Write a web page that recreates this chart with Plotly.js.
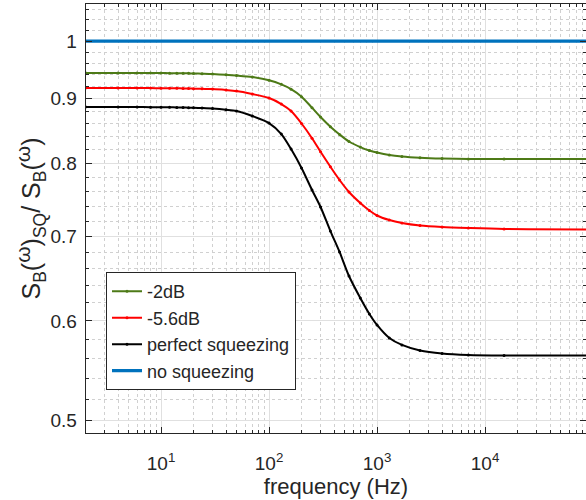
<!DOCTYPE html>
<html>
<head>
<meta charset="utf-8">
<script src="https://cdn.plot.ly/plotly-3.0.1.min.js"></script>
<style>html,body{margin:0;padding:0;background:#fff;}#chart{width:586px;height:500px;}</style>
</head>
<body>
<div id="chart"></div>
<script>
const freq = [2,4,6,8,10,12,14,16,18,20,24,30,40,50,70,100,130,160,200,250,300,370,450,550,700,850,1000,1300,1700,2500,4000,7000,15000,100000];
const sq2dB = [0.9433,0.9433,0.9433,0.9433,0.9432,0.9431,0.9430,0.9429,0.9428,0.9426,0.9422,0.9416,0.9403,0.9390,0.9364,0.9310,0.9240,0.9160,0.9035,0.8855,0.8705,0.8552,0.8432,0.8325,0.8241,0.8189,0.8159,0.8122,0.8100,0.8082,0.8070,0.8063,0.8062,0.8062];
const sq56dB = [0.9178,0.9178,0.9178,0.9177,0.9176,0.9175,0.9174,0.9172,0.9170,0.9168,0.9165,0.9161,0.9145,0.9128,0.9078,0.9012,0.8914,0.8801,0.8603,0.8375,0.8170,0.7950,0.7760,0.7592,0.7441,0.7340,0.7273,0.7213,0.7174,0.7141,0.7122,0.7109,0.7096,0.7090];
const sqPerfect = [0.8865,0.8865,0.8865,0.8864,0.8863,0.8862,0.8860,0.8858,0.8856,0.8854,0.8849,0.8841,0.8822,0.8801,0.8721,0.8610,0.8439,0.8211,0.7932,0.7620,0.7387,0.7070,0.6805,0.6513,0.6257,0.6077,0.5956,0.5816,0.5743,0.5685,0.5654,0.5639,0.5634,0.5634];
const noSqFreq = [2,100000];
const noSq = [1,1];
const names = ['-2dB','-5.6dB','perfect squeezing','no squeezing'];
const xTickVals = [10,100,1000,10000];
const xTickText = ['10<sup>1</sup>','10<sup>2</sup>','10<sup>3</sup>','10<sup>4</sup>'];
const yTickVals = [0.5,0.6,0.7,0.8,0.9,1];
const yTickText = ['0.5','0.6','0.7','0.8','0.9','1'];

const xMinor = [];
for (let e = 0; e <= 4; e++) for (let m = 2; m <= 9; m++) xMinor.push(m * Math.pow(10, e));
const yMinor = [];
for (let v = 48; v <= 108; v += 2) { if (v % 10 !== 0) yMinor.push(v / 100); }

const font = 'Liberation Sans, Arial, Helvetica, sans-serif';
const mk = (y, name, color) => ({
  x: freq, y: y, name: name, type: 'scatter', mode: 'lines+markers',
  line: {color: color, width: 2, shape: 'spline', smoothing: 0.8},
  marker: {color: color, size: 3}
});
const traces = [
  mk(sq2dB, names[0], '#4d7a17'),
  mk(sq56dB, names[1], '#ff0000'),
  mk(sqPerfect, names[2], '#000000'),
  {x: noSqFreq, y: noSq, name: names[3], type: 'scatter', mode: 'lines',
   line: {color: '#0072bd', width: 3.2}}
];
const axisCommon = {
  showline: true, linecolor: '#262626', linewidth: 1.3, mirror: 'ticks',
  ticks: 'inside', ticklen: 6, tickcolor: '#262626', tickwidth: 1,
  showgrid: true, gridcolor: '#e0e0e0', gridwidth: 1, zeroline: false,
  tickfont: {family: font, size: 19, color: '#262626'}
};
const omega = '<sup><span style="font-size:21px">ω</span></sup>';
const layout = {
  width: 586, height: 500,
  margin: {l: 86, r: 0, t: 4, b: 67},
  paper_bgcolor: '#fff', plot_bgcolor: '#fff',
  font: {family: font, color: '#262626'},
  showlegend: true,
  legend: {x: 0.04, y: 0.375, xanchor: 'left', yanchor: 'top',
    bgcolor: '#fff', bordercolor: '#262626', borderwidth: 1,
    font: {family: font, size: 18, color: '#262626'},
    tracegroupgap: 0, itemwidth: 30},
  xaxis: Object.assign({}, axisCommon, {
    type: 'log', range: [Math.log10(2.02), 4.935], autorange: false,
    tickmode: 'array', tickvals: xTickVals, ticktext: xTickText,
    ticklabelstandoff: 13,
    minor: {tickmode: 'array', tickvals: xMinor, ticks: 'inside', ticklen: 3,
      tickcolor: '#262626', showgrid: true, gridcolor: '#d0d0d0', griddash: 'dot', gridwidth: 1},
    title: {text: 'frequency (Hz)', font: {family: font, size: 22, color: '#262626'}, standoff: 0}
  }),
  yaxis: Object.assign({}, axisCommon, {
    type: 'log', range: [Math.log10(0.489), Math.log10(1.07)], autorange: false,
    tickmode: 'array', tickvals: yTickVals, ticktext: yTickText,
    ticklabelstandoff: 4,
    minor: {tickmode: 'array', tickvals: yMinor, ticks: 'inside', ticklen: 3,
      tickcolor: '#262626', showgrid: true, gridcolor: '#d0d0d0', griddash: 'dot', gridwidth: 1},
    title: {text: 'S<sub>B</sub>(' + omega + ')<sub>SQ</sub>/ S<sub>B</sub>(' + omega + ')',
      font: {family: font, size: 25, color: '#262626'}, standoff: 2}
  })
};
Plotly.newPlot('chart', traces, layout, {displayModeBar: false, staticPlot: true});
</script>
</body>
</html>
